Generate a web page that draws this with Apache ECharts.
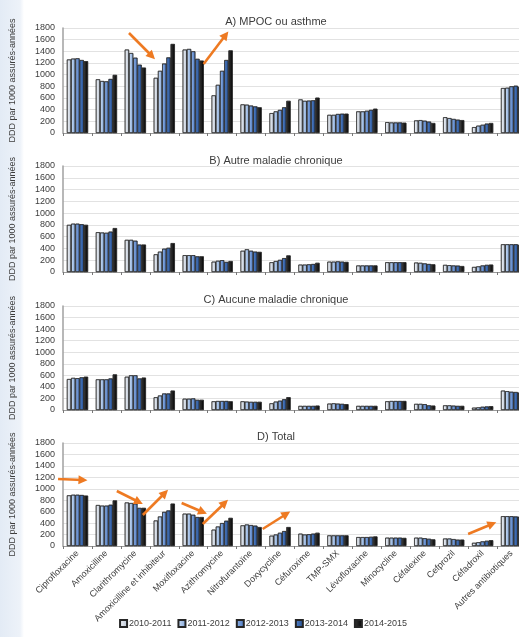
<!DOCTYPE html>
<html>
<head>
<meta charset="utf-8">
<script src="https://cdn.jsdelivr.net/npm/echarts@6/dist/echarts.min.js"></script>
<style>
  html, body { margin: 0; padding: 0; overflow: hidden; background: #fff; }
  #chart {
    width: 526px;
    height: 637px;
    background: linear-gradient(to right, #e3ebf5 0px, #edf2f9 20px, #ffffff 24px);
  }
</style>
</head>
<body>
<div id="chart"></div>
<script>
const categories = ['Ciprofloxacine', 'Amoxicilline', 'Clarithromycine', 'Amoxicilline et inhibiteur',
  'Moxifloxacine', 'Azithromycine', 'Nitrofurantoïne', 'Doxycycline', 'Céfuroxime', 'TMP-SMX',
  'Lévofloxacine', 'Minocycline', 'Céfalexine', 'Cefprozil', 'Céfadroxil', 'Autres antibiotiques']

const seasons = ['2010-2011', '2011-2012', '2012-2013', '2013-2014', '2014-2015']

const panelTitles = ['A) MPOC ou asthme', 'B) Autre maladie chronique', 'C) Aucune maladie chronique', 'D) Total']

// one row per antibiotic, one value per season
const mpocValues = [
  [1260, 1275, 1280, 1250, 1230], [920, 890, 885, 925, 995], [1430, 1370, 1290, 1170, 1120],
  [945, 1065, 1190, 1295, 1525], [1430, 1440, 1400, 1270, 1240], [645, 825, 1065, 1250, 1415],
  [490, 485, 470, 455, 440], [340, 370, 395, 440, 550], [575, 550, 555, 560, 605],
  [310, 310, 325, 330, 330], [370, 370, 380, 395, 415], [185, 180, 180, 180, 175],
  [215, 220, 210, 195, 170], [270, 255, 240, 228, 220], [100, 125, 140, 160, 170],
  [770, 775, 800, 810, 790]
]

const autreValues = [
  [800, 820, 820, 810, 800], [675, 670, 665, 685, 745], [545, 545, 530, 465, 465],
  [300, 345, 395, 410, 490], [285, 285, 285, 265, 265], [175, 190, 200, 170, 185],
  [360, 385, 360, 345, 340], [165, 185, 205, 235, 280], [125, 125, 130, 135, 155],
  [175, 175, 180, 175, 170], [110, 110, 110, 110, 110], [165, 165, 165, 165, 165],
  [160, 155, 145, 135, 130], [120, 115, 110, 108, 100], [85, 95, 110, 120, 125],
  [470, 470, 470, 470, 460]
]

const aucuneValues = [
  [535, 555, 550, 565, 575], [530, 530, 530, 545, 615], [575, 600, 600, 545, 560],
  [220, 250, 285, 285, 335], [195, 195, 200, 175, 175], [150, 155, 155, 155, 150],
  [150, 145, 140, 140, 140], [115, 145, 160, 185, 220], [70, 70, 70, 70, 75],
  [110, 115, 110, 105, 100], [70, 70, 70, 70, 70], [150, 155, 155, 155, 155],
  [105, 105, 100, 80, 75], [80, 80, 75, 70, 70], [40, 45, 55, 60, 65],
  [335, 325, 315, 310, 300]
]

const totalValues = [
  [885, 895, 895, 890, 880], [715, 705, 705, 720, 795], [760, 750, 740, 665, 665],
  [445, 515, 595, 620, 740], [565, 565, 545, 505, 505], [285, 340, 400, 440, 490],
  [360, 375, 365, 355, 330], [180, 200, 230, 260, 330], [215, 200, 205, 215, 230],
  [185, 185, 185, 185, 185], [155, 155, 155, 160, 165], [145, 145, 145, 145, 140],
  [145, 145, 135, 125, 115], [130, 130, 120, 110, 110], [55, 65, 80, 90, 100],
  [520, 520, 520, 515, 510]
]

const yTicks = { min: 0, max: 1800, interval: 200 }

// trend arrows, [category position, value] -> [category position, value]
const arrowsA = [
  [[1.78, 1714], [2.57, 1320]],
  [[4.36, 1183], [5.12, 1680]]
]
const arrowsD = [
  [[-0.67, 1171], [0.19, 1154]],
  [[1.36, 961], [2.12, 769]],
  [[2.26, 542], [3.02, 926]],
  [[3.60, 752], [4.33, 594]],
  [[4.33, 385], [5.09, 752]],
  [[6.40, 297], [7.22, 559]],
  [[13.5, 210], [14.33, 385]]
]

const panels = [mpocValues, autreValues, aucuneValues, totalValues]
const gridTops = [28, 166, 306, 443]
const gridHeights = [105, 106, 104, 103]
const titleTops = [11, 150, 289, 426]

const seasonColors = [
  ['#f7f9fc', '#b4bfcf'],
  ['#cfe0f5', '#7ea2d6'],
  ['#93b5e8', '#4673bd'],
  ['#5584cc', '#214b8c'],
  ['#3a3a3a', '#000000']
]

const textColor = '#3c3c3c'
const font = 'Liberation Sans, Arial, sans-serif'

const chart = echarts.init(document.getElementById('chart'))

function barFill(s) {
  return new echarts.graphic.LinearGradient(0, 0, 1, 0, [
    { offset: 0, color: seasonColors[s][0] },
    { offset: 1, color: seasonColors[s][1] }
  ])
}

const option = {
  animation: false,
  textStyle: { fontFamily: font },
  title: panelTitles.map((t, i) => ({
    text: t,
    left: 271,
    top: titleTops[i],
    textAlign: 'center',
    textStyle: { fontSize: 11, fontWeight: 'normal', color: textColor, fontFamily: font }
  })),
  legend: {
    bottom: 4,
    left: 'center',
    icon: 'rect',
    itemWidth: 7,
    itemHeight: 7,
    itemGap: 6,
    data: seasons,
    textStyle: { fontSize: 9, color: textColor, padding: [0, 0, 0, -3] }
  },
  grid: gridTops.map((top, i) => ({ left: 62, right: 0, top, height: gridHeights[i] })),
  xAxis: gridTops.map((_, i) => ({
    type: 'category',
    gridIndex: i,
    data: categories,
    axisLine: { lineStyle: { color: '#9a9a9a' } },
    axisTick: { show: true, length: 3, lineStyle: { color: '#777' } },
    axisLabel: {
      show: i === 3,
      interval: 0,
      rotate: 45,
      fontSize: 9,
      margin: 6,
      color: textColor
    }
  })),
  yAxis: gridTops.map((_, i) => ({
    type: 'value',
    gridIndex: i,
    min: yTicks.min,
    max: yTicks.max,
    interval: yTicks.interval,
    name: 'DDD par 1000 assurés-années',
    nameLocation: 'middle',
    nameGap: 46,
    nameTextStyle: { fontSize: 9, color: textColor },
    axisLine: { show: true, lineStyle: { color: '#a0a0a0', width: 1.5 } },
    axisTick: { show: false },
    axisLabel: { fontSize: 9, color: textColor, margin: 8, formatter: v => String(v) },
    splitLine: { lineStyle: { color: '#e2e2e2' } }
  })),
  series: []
}

panels.forEach((values, p) => {
  seasons.forEach((season, s) => {
    option.series.push({
      id: 'p' + p + 's' + s,
      name: season,
      type: 'bar',
      xAxisIndex: p,
      yAxisIndex: p,
      data: values.map(row => row[s]),
      barGap: '0%',
      barCategoryGap: '27%',
      itemStyle: {
        color: barFill(s),
        borderColor: '#262626',
        borderWidth: 0.6
      }
    })
  })
})

chart.setOption(option)

// place the arrows through the axes
function toPixel(p, pt) {
  const x0 = chart.convertToPixel({ xAxisIndex: p }, 0)
  const x1 = chart.convertToPixel({ xAxisIndex: p }, 1)
  return {
    x: x0 + pt[0] * (x1 - x0),
    y: chart.convertToPixel({ yAxisIndex: p }, pt[1])
  }
}

function arrowMarks(p, arrows) {
  return {
    id: 'p' + p + 's4',
    markLine: {
      silent: true,
      symbol: ['none', 'triangle'],
      symbolSize: [9, 9],
      label: { show: false },
      lineStyle: { color: '#ee7a22', width: 2.6, type: 'solid' },
      data: arrows.map(a => [toPixel(p, a[0]), toPixel(p, a[1])])
    }
  }
}

chart.setOption({ series: [arrowMarks(0, arrowsA), arrowMarks(3, arrowsD)] })
</script>
</body>
</html>
